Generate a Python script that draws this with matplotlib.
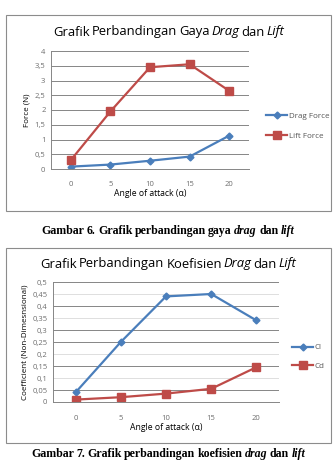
import matplotlib
matplotlib.use('Agg')
import matplotlib.pyplot as plt
from matplotlib.patches import Rectangle

# data
angles = ['0', '5', '10', '15', '20']
drag_force = [0.08, 0.15, 0.28, 0.42, 1.13]
lift_force = [0.30, 1.95, 3.45, 3.55, 2.65]
cl = [0.04, 0.25, 0.44, 0.45, 0.34]
cd = [0.01, 0.02, 0.035, 0.055, 0.145]
force_ticks = [0, 0.5, 1, 1.5, 2, 2.5, 3, 3.5, 4]
coef_ticks = [0, 0.05, 0.1, 0.15, 0.2, 0.25, 0.3, 0.35, 0.4, 0.45, 0.5]
# gridlines that show up clearly in the (downscaled) original
force_grid = [0.5, 1, 1.5, 2, 2.5, 3, 3.5, 4]
coef_grid = [0.05, 0.15, 0.25, 0.3, 0.4, 0.5]

W, H = 334, 462
BLUE = '#4a7ebb'
RED = '#be4b48'
GRID = '#868686'
TICK = '#6e6e6e'
plt.rcParams['font.family'] = ['Open Sans', 'DejaVu Sans']

fig = plt.figure(figsize=(W / 100, H / 100), dpi=100)
renderer = fig.canvas.get_renderer()


def px(l, t, r, b):
    # pixel box (top-left origin) -> figure fraction rect
    return [l / W, (H - b) / H, (r - l) / W, (b - t) / H]


def pieces(x, y, parts, size, family, weight='normal', gap=0.12):
    # words drawn side by side, centred on x (pixels); gap in font-size units
    g = gap * size * 100 / 72
    objs = []
    for s, style in parts:
        t = fig.text(0, 1 - y / H, s, fontsize=size, family=family,
                     style=style, weight=weight, va='center', ha='left')
        objs.append(t)
    widths = [o.get_window_extent(renderer).width for o in objs]
    cur = x - (sum(widths) + g * (len(objs) - 1)) / 2
    for o, w in zip(objs, widths):
        o.set_x(cur / W)
        cur += w + g


def fmt(v):
    return ('%g' % v).replace('.', ',')


def chart(frame, area, series, ticks, grid, ylabel, title_parts, title_y, xlabel_y, leg_xy, leg_gap):
    l, t, r, b = frame
    fig.patches.append(Rectangle((l / W, 1 - b / H), (r - l) / W, (b - t) / H,
                                 transform=fig.transFigure, fill=False,
                                 edgecolor='#8c8c8c', linewidth=0.8))
    ax = fig.add_axes(px(*area))
    x = list(range(len(angles)))
    for gv in ticks[1:]:
        ax.axhline(gv, color=GRID if gv in grid else '#dedede', linewidth=0.7, zorder=0)
    for vals, name, col, mk, ms in series:
        ax.plot(x, vals, color=col, marker=mk, markersize=ms, linewidth=1.6,
                label=name)
    ax.set_xlim(-0.5, len(angles) - 0.5)
    ax.set_ylim(ticks[0], ticks[-1])
    ax.set_yticks(ticks)
    ax.set_yticklabels([fmt(v) for v in ticks])
    ax.set_xticks(x)
    ax.set_xticklabels(angles)
    for sp in ['top', 'right']:
        ax.spines[sp].set_visible(False)
    ax.spines['left'].set_color(GRID)
    ax.spines['bottom'].set_color(GRID)
    ax.spines['left'].set_linewidth(0.7)
    ax.spines['bottom'].set_linewidth(0.7)
    ax.tick_params(length=0, labelsize=5.5, labelcolor=TICK, pad=4)
    ax.tick_params(axis='x', pad=9)
    ax.set_ylabel(ylabel, fontsize=5.8, labelpad=3)
    fig.text((area[0] + area[2]) / 2 / W, 1 - xlabel_y / H, 'Angle of attack (\u03b1)',
             fontsize=6.2, ha='center', va='center')
    pieces((l + r) / 2, title_y, title_parts, 9.4, ['Open Sans', 'DejaVu Sans'], gap=0.15)
    ax.legend(loc='center left', bbox_to_anchor=(leg_xy[0] / W, 1 - leg_xy[1] / H),
              bbox_transform=fig.transFigure, frameon=False, fontsize=5.8,
              handlelength=2.6, handletextpad=0.2, labelspacing=leg_gap,
              labelcolor='#555555')
    return ax


chart((6, 15, 331, 211), (51, 51, 249, 169),
      [(drag_force, 'Drag Force', BLUE, 'D', 3.5),
       (lift_force, 'Lift Force', RED, 's', 6)],
      force_ticks, force_grid, 'Force (N)',
      [('Grafik', 'normal'), ('Perbandingan', 'normal'), ('Gaya', 'normal'),
       ('Drag', 'italic'), ('dan', 'normal'), ('Lift', 'italic')],
      32, 194, (259, 126), 1.6)

chart((6, 248, 331, 443), (53, 282, 279, 402),
      [(cl, 'Cl', BLUE, 'D', 3.5),
       (cd, 'Cd', RED, 's', 6)],
      coef_ticks, coef_grid, 'Coefficient (Non-Dimesnsional)',
      [('Grafik', 'normal'), ('Perbandingan', 'normal'), ('Koefisien', 'normal'),
       ('Drag', 'italic'), ('dan', 'normal'), ('Lift', 'italic')],
      264, 428, (285, 357), 1.4)

serif = ['Liberation Serif', 'DejaVu Serif']
pieces(168, 231, [('Gambar', 'normal'), ('6.', 'normal'), ('Grafik', 'normal'),
                  ('perbandingan', 'normal'), ('gaya', 'normal'), ('drag', 'italic'),
                  ('dan', 'normal'), ('lift', 'italic')], 8.6, serif, 'bold', gap=0.2)
pieces(168, 454, [('Gambar', 'normal'), ('7.', 'normal'), ('Grafik', 'normal'),
                  ('perbandingan', 'normal'), ('koefisien', 'normal'), ('drag', 'italic'),
                  ('dan', 'normal'), ('lift', 'italic')], 8.6, serif, 'bold', gap=0.2)

fig.savefig('out.png', dpi=100)
